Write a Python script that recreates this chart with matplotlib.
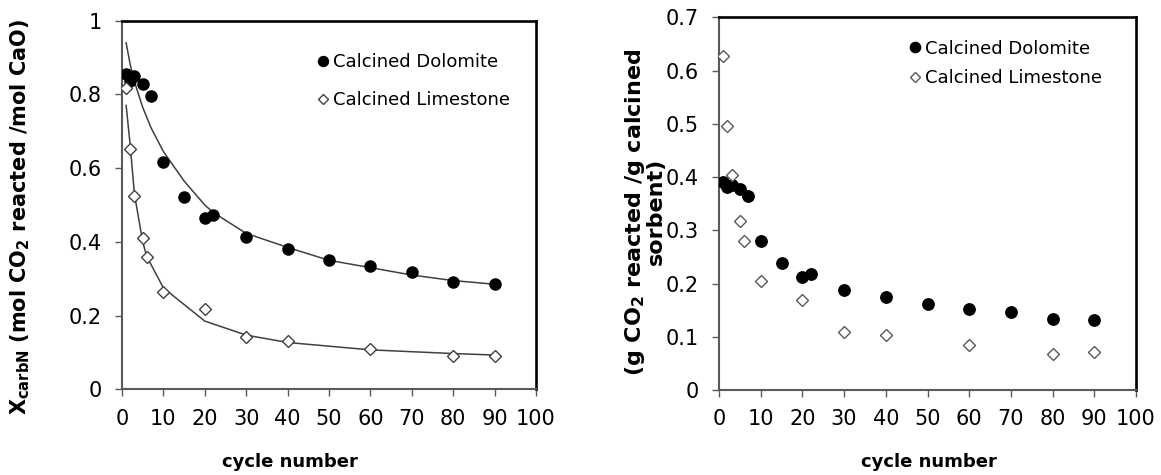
import matplotlib
matplotlib.use("Agg")
import matplotlib.pyplot as plt

plt.rcParams['font.family'] = ['DejaVu Sans']
plt.rcParams['mathtext.fontset'] = 'dejavusans'

# ---- data ----
dol_x = [1, 2, 3, 5, 7, 10, 15, 20, 22, 30, 40, 50, 60, 70, 80, 90]
dol_xn = [0.855, 0.836, 0.85, 0.828, 0.796, 0.616, 0.521, 0.466, 0.473,
          0.412, 0.381, 0.351, 0.334, 0.319, 0.292, 0.285]
dol_g = [0.391, 0.381, 0.385, 0.378, 0.364, 0.280, 0.238, 0.213, 0.217,
         0.188, 0.174, 0.161, 0.152, 0.146, 0.133, 0.131]

lim_x = [1, 2, 3, 5, 6, 10, 20, 30, 40, 60, 80, 90]
lim_xn = [0.817, 0.652, 0.525, 0.41, 0.36, 0.263, 0.218, 0.141, 0.132,
          0.109, 0.091, 0.091]
lim_g = [0.628, 0.495, 0.404, 0.317, 0.28, 0.204, 0.169, 0.108, 0.103,
         0.0845, 0.068, 0.071]

# fitted model curves (read at the data cycle numbers)
dol_fit = [0.94, 0.88, 0.835, 0.765, 0.71, 0.645, 0.565, 0.50, 0.48,
           0.423, 0.385, 0.35, 0.33, 0.31, 0.295, 0.285]
lim_fit = [0.77, 0.66, 0.53, 0.40, 0.36, 0.275, 0.185, 0.147, 0.127,
           0.107, 0.097, 0.093]

x_ticks = list(range(0, 101, 10))
left_yticks = [0, 0.2, 0.4, 0.6, 0.8, 1.0]
left_yticklabels = ['0', '0.2', '0.4', '0.6', '0.8', '1']
right_yticks = [0, 0.1, 0.2, 0.3, 0.4, 0.5, 0.6, 0.7]
right_yticklabels = ['0', '0.1', '0.2', '0.3', '0.4', '0.5', '0.6', '0.7']

fig = plt.figure(figsize=(11.61, 4.75), dpi=100)
axL = fig.add_axes([122/1161, 1-389.3/475, 414/1161, 368.6/475])
axR = fig.add_axes([719/1161, 1-390/475, 417/1161, 372.7/475])

AX_GREY = '#5a5a5a'

def style(ax):
    for s in ['top', 'right']:
        ax.spines[s].set_color('black')
        ax.spines[s].set_linewidth(1.9)
    for s in ['left', 'bottom']:
        ax.spines[s].set_color(AX_GREY)
        ax.spines[s].set_linewidth(1.5)
    ax.tick_params(direction='out', length=5, width=1, color=AX_GREY,
                   labelsize=15)
    ax.tick_params(axis='x', pad=9)
    ax.tick_params(axis='y', pad=9.5)
    ax.set_xlim(0, 100)
    ax.set_xticks(x_ticks)

# ---- left panel ----
style(axL)
axL.plot(dol_x, dol_fit, color='#404040', lw=1.1, zorder=2)
axL.plot(lim_x, lim_fit, color='#404040', lw=1.1, zorder=2)
axL.plot(dol_x, dol_xn, 'o', ms=8, color='black', zorder=3,
         label='Calcined Dolomite')
axL.plot(lim_x, lim_xn, 'D', ms=5.8, mfc='white', mec='#404040', mew=1.0,
         zorder=3, label='Calcined Limestone')
axL.set_ylim(0, 1)
axL.set_yticks(left_yticks)
axL.set_yticklabels(left_yticklabels)
axL.set_ylabel(r'X$_{\mathbf{carbN}}$ (mol CO$_{\mathbf{2}}$ reacted /mol CaO)',
               fontsize=15, fontweight='bold', va='center')
axL.yaxis.set_label_coords(-0.246, 0.4675)
axL.set_xlabel('cycle number', fontsize=13, fontweight='bold', va='center')
axL.xaxis.set_label_coords(0.406, -0.197)
axL.legend(loc='upper left', bbox_to_anchor=(0.469, 0.912), frameon=False,
           fontsize=13, handlelength=0.8, handletextpad=0.15, borderpad=0,
           borderaxespad=0, labelspacing=1.1, markerscale=0.9)

# ---- right panel ----
style(axR)
axR.plot(dol_x, dol_g, 'o', ms=8.2, color='black', zorder=3,
         label='Calcined Dolomite')
axR.plot(lim_x, lim_g, 'D', ms=6.0, mfc='white', mec='#595959', mew=1.0,
         zorder=3, label='Calcined Limestone')
axR.set_ylim(0, 0.7)
axR.set_yticks(right_yticks)
axR.set_yticklabels(right_yticklabels)
axR.set_ylabel('(g CO$_{\\mathbf{2}}$ reacted /g calcined\nsorbent)',
               fontsize=16, fontweight='bold', va='center', linespacing=0.9)
axR.yaxis.set_label_coords(-0.179, 0.478)
axR.set_xlabel('cycle number', fontsize=13, fontweight='bold', va='center')
axR.xaxis.set_label_coords(0.504, -0.193)
axR.legend(loc='upper left', bbox_to_anchor=(0.453, 0.94), frameon=False,
           fontsize=13, handlelength=0.8, handletextpad=0.15, borderpad=0,
           borderaxespad=0, labelspacing=0.62, markerscale=0.9)

fig.savefig('out.png', dpi=100)
